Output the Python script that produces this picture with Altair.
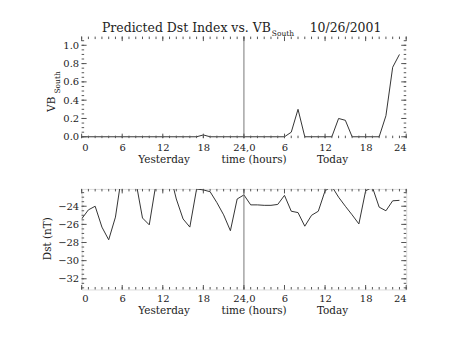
import altair as alt
import pandas as pd

# ---------------- data ----------------
hours = list(range(48))
vb_south = [0, 0, 0, 0, 0, 0, 0, 0, 0, 0, 0, 0,
            0, 0, 0, 0, 0, 0, 0.02, 0, 0, 0, 0, 0,
            0, 0, 0, 0, 0, 0, 0, 0.05, 0.30, 0, 0, 0,
            0, 0, 0.20, 0.18, 0, 0, 0, 0, 0, 0.23, 0.76, 0.90]
dst = [-25.4, -24.4, -24.0, -26.3, -27.7, -25.2, -20.2, -19.5, -21.2, -25.3, -26.05, -21.5,
       -20.0, -20.2, -23.2, -25.4, -26.3, -22.1, -22.2, -22.4, -23.6, -24.95, -26.7, -23.2,
       -22.75, -23.85, -23.85, -23.9, -23.9, -23.8, -22.8, -24.55, -24.7, -26.2, -25.0, -24.55,
       -22.3, -21.8, -23.0, -24.0, -24.95, -25.95, -22.3, -21.9, -24.1, -24.5, -23.4, -23.35]

x_tick_values = [0, 6, 12, 18, 24, 30, 36, 42, 48]
x_tick_labels = ["0", "6", "12", "18", "24,0", "6", "12", "18", "24"]
x_minor = list(range(49))
vb_ticks = [0.0, 0.2, 0.4, 0.6, 0.8, 1.0]
vb_minor = [round(0.05 * i, 2) for i in range(22)]
dst_ticks = [-32, -30, -28, -26, -24]
dst_minor = [-33 + 0.5 * i for i in range(22)]
under_labels = ["Yesterday", "time (hours)", "Today"]
under_hours = [12.2, 25.5, 37.1]
divider_hour = [24]

FONT = "DejaVu Serif"
TXT = "#222222"
FRAME = "#555555"
LINE = "#333333"
W = 326
LEFT, TOP = 81, 35
CW, CH = 454, 341

label_expr = "''"
for v, l in reversed(list(zip(x_tick_values, x_tick_labels))):
    label_expr = f"datum.value == {v} ? '{l}' : ({label_expr})"

x_axis = alt.Axis(values=x_tick_values, labelExpr=label_expr, ticks=False, tickSize=0,
                  domain=False, grid=False, title=None, labelPadding=4, zindex=1,
                  labelFont=FONT, labelFontSize=10, labelColor=TXT)


def panel(values, ydomain, yticks, yminor, yfmt, H):
    df = pd.DataFrame({"hour": hours, "v": values})
    X = lambda f: alt.X(f, type="quantitative",
                        scale=alt.Scale(domain=[0, 48], nice=False, zero=False), axis=x_axis)
    yaxis = alt.Axis(values=yticks, format=yfmt, ticks=False, tickSize=0, domain=False,
                     grid=False, title=None, labelPadding=3, labelFont=FONT, zindex=1,
                     labelFontSize=10, labelColor=TXT)
    Y = lambda f: alt.Y(f, type="quantitative",
                        scale=alt.Scale(domain=ydomain, nice=False, zero=False), axis=yaxis)

    line = alt.Chart(df).mark_line(clip=True, color=LINE, strokeWidth=1).encode(
        x=X("hour"), y=Y("v"))
    div = alt.Chart(pd.DataFrame({"hour": divider_hour})).mark_rule(
        color="#777777", strokeWidth=1).encode(x=X("hour"))

    xmin = pd.DataFrame({"h": x_minor})
    xmaj = pd.DataFrame({"h": x_tick_values})
    ymin = pd.DataFrame({"t": yminor})
    ymaj = pd.DataFrame({"t": yticks})
    layers = [line, div]
    for d, L in ((xmin, 2.5), (xmaj, 4.5)):
        layers.append(alt.Chart(d).mark_rule(color=FRAME, strokeWidth=1).encode(
            x=X("h"), y=alt.value(H), y2=alt.value(H - L)))
        layers.append(alt.Chart(d).mark_rule(color=FRAME, strokeWidth=1).encode(
            x=X("h"), y=alt.value(0), y2=alt.value(L)))
    for d, L in ((ymin, 2.5), (ymaj, 5)):
        layers.append(alt.Chart(d).mark_rule(color=FRAME, strokeWidth=1).encode(
            y=Y("t"), x=alt.value(0), x2=alt.value(L)))
        layers.append(alt.Chart(d).mark_rule(color=FRAME, strokeWidth=1).encode(
            y=Y("t"), x=alt.value(W), x2=alt.value(W - L)))
    under = alt.Chart(pd.DataFrame({"hour": under_hours, "txt": under_labels})).mark_text(
        font=FONT, fontSize=10.5, color=TXT, align="center", baseline="alphabetic").encode(
        x=X("hour"), y=alt.value(H + 25), text="txt:N")
    layers.append(under)
    return layers, H


top_layers, H1 = panel(vb_south, [-0.015, 1.095], vb_ticks, vb_minor, ".1f", 102)
bot_layers, H2 = panel(dst, [-33.18, -22.09], dst_ticks, dst_minor, "d", 101)


def txt(s, x, y, size, align="left", angle=0, baseline="alphabetic"):
    return alt.Chart(pd.DataFrame({"s": [s]})).mark_text(
        font=FONT, fontSize=size, color=TXT, align=align, angle=angle,
        baseline=baseline).encode(text="s:N", x=alt.value(x), y=alt.value(y))


# white backdrop that spans the whole page, so the page bounds are fixed
backdrop = alt.Chart(pd.DataFrame({"s": [0]})).mark_rect(
    color="white", strokeWidth=0).encode(
    x=alt.value(-LEFT), x2=alt.value(CW - LEFT), y=alt.value(-TOP), y2=alt.value(CH - TOP))

top_layers = [backdrop] + top_layers + [
    txt("Predicted Dst Index vs. VB", 190, -5, 12.5, align="right"),
    txt("South", 191, -1, 7.5),
    txt("10/26/2001", 229, -5, 12.5),
    txt("VB", -29.3, 68, 10.5, align="center", angle=270, baseline="middle"),
    txt("South", -23.5, 46, 7.5, align="center", angle=270, baseline="middle"),
]
bot_layers += [
    txt("Dst (nT)", -34, 50, 10.5, align="center", angle=270, baseline="middle"),
]

top = alt.layer(*top_layers).properties(width=W, height=H1)
bottom = alt.layer(*bot_layers).properties(width=W, height=H2)

SP = 51
chart = alt.vconcat(top, bottom, spacing=SP, bounds="flush").properties(
    padding=0,
).configure_view(stroke=FRAME, strokeWidth=1).configure(background="white")

chart.save("out.html", embed_options={"renderer": "svg", "actions": False})
